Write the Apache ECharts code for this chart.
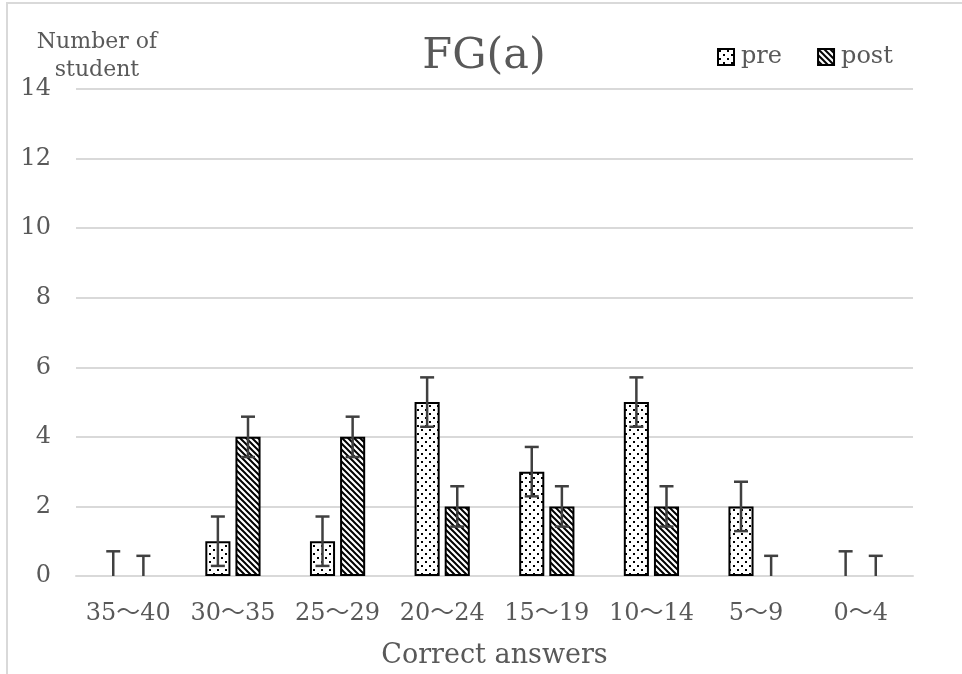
<!DOCTYPE html>
<html>
<head>
<meta charset="utf-8">
<script src="https://cdn.jsdelivr.net/npm/echarts@6/dist/echarts.min.js"></script>
<style>
html,body{margin:0;padding:0;background:#fff;}
#chart{width:962px;height:674px;}
</style>
</head>
<body>
<div id="chart"></div>
<script>
const categories = ['35～40','30～35','25～29','20～24','15～19','10～14','5～9','0～4'];
const preValues  = [0, 1, 1, 5, 3, 5, 2, 0];
const postValues = [0, 4, 4, 2, 2, 2, 0, 0];
const preErrors  = [0.71, 0.71, 0.71, 0.71, 0.71, 0.71, 0.71, 0.71];
const postErrors = [0.58, 0.58, 0.58, 0.58, 0.58, 0.58, 0.58, 0.58];
const yTicks = { min: 0, max: 14, interval: 2 };

const FONT = '"DejaVu Serif", "Noto Sans CJK JP", serif';
const TXT = '#595959';
const GRID = '#d9d9d9';

function dotPattern() {
  const c = document.createElement('canvas');
  c.width = 8; c.height = 8;
  const g = c.getContext('2d');
  g.fillStyle = '#fff'; g.fillRect(0, 0, 8, 8);
  g.fillStyle = '#000';
  g.fillRect(1, 1, 2, 2);
  g.fillRect(5, 5, 2, 2);
  return c;
}
function diagPattern() {
  const c = document.createElement('canvas');
  c.width = 6; c.height = 6;
  const g = c.getContext('2d');
  g.fillStyle = '#fff'; g.fillRect(0, 0, 6, 6);
  g.strokeStyle = '#000'; g.lineWidth = 2;
  g.beginPath();
  g.moveTo(-1, -1); g.lineTo(7, 7);
  g.moveTo(-1, 5); g.lineTo(1, 7);
  g.moveTo(5, -1); g.lineTo(7, 1);
  g.stroke();
  return c;
}

function barData(values) {
  return values.map(v => v === 0 ? { value: v, itemStyle: { borderWidth: 0, opacity: 0 } } : v);
}

function errorSeries(values, errors, side) {
  return {
    type: 'custom',
    silent: true,
    clip: true,
    z: 5,
    data: values.map((v, i) => [i, v, errors[i]]),
    renderItem: function (params, api) {
      const idx = api.value(0), val = api.value(1), err = api.value(2);
      const bw = api.size([1, 0])[0];
      const off = side * 0.144 * bw;
      const lowV = Math.max(0, val - err);
      const top = api.coord([idx, val + err]);
      const bot = api.coord([idx, lowV]);
      const x = top[0] + off;
      const half = 7;
      const st = { stroke: '#404040', lineWidth: 2.5 };
      const children = [
        { type: 'line', shape: { x1: x, y1: top[1], x2: x, y2: bot[1] }, style: st },
        { type: 'line', shape: { x1: x - half, y1: top[1], x2: x + half, y2: top[1] }, style: st }
      ];
      if (val - err > 0) {
        children.push({ type: 'line', shape: { x1: x - half, y1: bot[1], x2: x + half, y2: bot[1] }, style: st });
      }
      return { type: 'group', children: children };
    }
  };
}

const chart = echarts.init(document.getElementById('chart'), null, { renderer: 'canvas' });
const dots = dotPattern();
const diag = diagPattern();

chart.setOption({
  backgroundColor: '#fff',
  animation: false,
  title: {
    text: 'FG(a)',
    left: 479,
    top: 30,
    textAlign: 'center',
    textStyle: { fontFamily: FONT, fontWeight: 'normal', fontSize: 43, color: TXT }
  },
  legend: {
    left: 712,
    top: 40,
    itemWidth: 16,
    itemHeight: 16,
    itemGap: 35,
    icon: 'rect',
    data: ['pre', 'post'],
    textStyle: { fontFamily: FONT, fontSize: 24, color: TXT, padding: [0, 0, 0, 2] }
  },
  graphic: [
    {
      type: 'rect',
      silent: true,
      shape: { x: 7, y: 3, width: 1200, height: 1200 },
      style: { fill: 'none', stroke: GRID, lineWidth: 2 }
    },
    {
      type: 'text',
      silent: true,
      style: {
        text: 'Number of\nstudent',
        x: 97, y: 28,
        textAlign: 'center',
        textVerticalAlign: 'top',
        font: '22px ' + FONT,
        lineHeight: 28,
        fill: TXT
      }
    }
  ],
  grid: { left: 76, right: 49, top: 89, bottom: 92, containLabel: false },
  xAxis: {
    type: 'category',
    data: categories,
    axisTick: { show: false },
    axisLine: { lineStyle: { color: GRID, width: 2 } },
    axisLabel: { color: TXT, fontFamily: FONT, fontSize: 24, margin: 26, interval: 0 },
    name: 'Correct answers',
    nameLocation: 'middle',
    nameGap: 66,
    nameTextStyle: { color: TXT, fontFamily: FONT, fontSize: 27 }
  },
  yAxis: {
    type: 'value',
    min: yTicks.min,
    max: yTicks.max,
    interval: yTicks.interval,
    axisLine: { show: false },
    axisTick: { show: false },
    splitLine: { lineStyle: { color: GRID, width: 2 } },
    axisLabel: { color: TXT, fontFamily: FONT, fontSize: 24, margin: 25 }
  },
  series: [
    {
      name: 'pre',
      type: 'bar',
      data: barData(preValues),
      barWidth: '24%',
      barGap: '20%',
      itemStyle: { color: { image: dots, repeat: 'repeat' }, borderColor: '#000', borderWidth: 2 }
    },
    {
      name: 'post',
      type: 'bar',
      data: barData(postValues),
      barWidth: '24%',
      barGap: '20%',
      itemStyle: { color: { image: diag, repeat: 'repeat' }, borderColor: '#000', borderWidth: 2 }
    },
    errorSeries(preValues, preErrors, -1),
    errorSeries(postValues, postErrors, 1)
  ]
});
</script>
</body>
</html>
